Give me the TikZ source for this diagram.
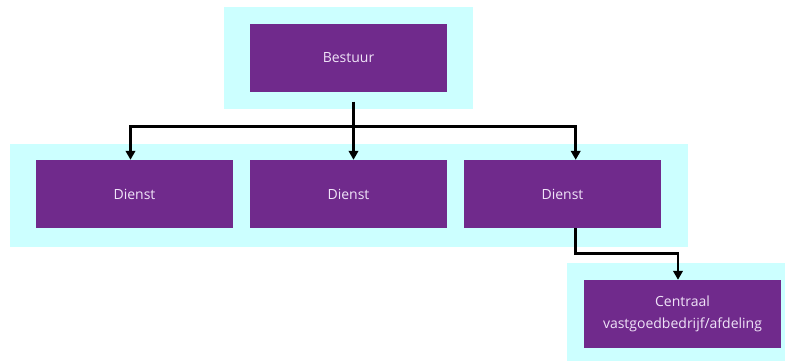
\documentclass[tikz,border=0pt]{standalone}
\usepackage{fontspec}
\setmainfont{Open Sans}
\usetikzlibrary{arrows.meta, positioning}
\definecolor{bandcyan}{RGB}{204,255,255}
\definecolor{unitpurple}{RGB}{112,42,140}
\definecolor{unittext}{RGB}{240,228,248}
\tikzset{
  band/.style={fill=bandcyan, draw=none},
  unit/.style={fill=unitpurple, text=unittext, minimum width=197pt, minimum height=68pt,
    inner sep=0pt, align=center, font=\fontsize{14}{21.5}\selectfont},
  link/.style={line width=2.8pt},
  linkarrow/.style={link, -{Triangle[width=9.5pt,length=9pt]}},
}

\begin{document}
\begin{tikzpicture}[x=1pt,y=-1pt]
\useasboundingbox (0,0) rectangle (785,360);

% light bands behind each level
\path[band] (224,7) rectangle (473,109);
\path[band] (10,144) rectangle (688,247);
\path[band] (567,263) rectangle (790,365);

\node[unit] (bestuur) at (348.5,58) {Bestuur};
\foreach \i/\x in {a/134.5,b/348.5,c/562.5}{
    \node[unit] (dienst\i) at (\x,194) {Dienst};
}
\node[unit] (centraal) at (682.5,314) {Centraal\\vastgoedbedrijf/afdeling};

\coordinate (stem) at (353.5,101.5);
\coordinate (split) at (353.5,126.5);

\draw[link] (stem) -- (split);
\draw[linkarrow] (split) -- ([xshift=5pt]dienstb.north);
\draw[linkarrow] (split) -| ([xshift=-4pt]diensta.north);
\draw[linkarrow] (split) -| ([xshift=13.2pt]dienstc.north);
\draw[linkarrow] ([xshift=13.2pt]dienstc.south) -- ++(0,25.5) -| ([xshift=-4.5pt]centraal.north);

\end{tikzpicture}
\end{document}
